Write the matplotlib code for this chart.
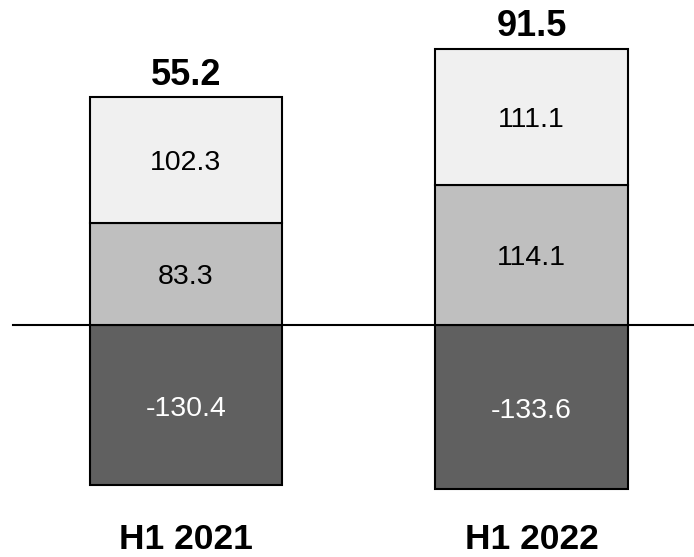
import matplotlib
matplotlib.use("Agg")
import matplotlib.pyplot as plt
import numpy as np

plt.rcParams['font.family'] = ['Liberation Sans', 'DejaVu Sans']

periods = ["H1 2021", "H1 2022"]
costs = [-130.4, -133.6]
segment_mid = [83.3, 114.1]
segment_top = [102.3, 111.1]
totals = [55.2, 91.5]

col_neg = "#606060"
col_mid = "#bfbfbf"
col_top = "#f0f0f0"

fig = plt.figure(figsize=(6.94, 5.57), dpi=100)
ax = fig.add_axes([0, 0, 1, 1])

x = np.arange(len(periods))
width = 0.556
edge = dict(edgecolor="black", linewidth=1.5)

ax.axhline(0, xmin=13 / 694, xmax=1, color="black", linewidth=1.5, zorder=1)

ax.bar(x, costs, width, color=col_neg, zorder=2, **edge)
ax.bar(x, segment_mid, width, color=col_mid, zorder=2, **edge)
ax.bar(x, segment_top, width, bottom=segment_mid, color=col_top, zorder=2, **edge)

seg_font = 20.5
for i in range(len(periods)):
    ax.annotate(f"{costs[i]:.1f}", (x[i], costs[i] / 2), xytext=(0, -3),
                textcoords="offset points", ha="center", va="center",
                fontsize=seg_font, color="white", zorder=3)
    ax.annotate(f"{segment_mid[i]:.1f}", (x[i], segment_mid[i] / 2),
                xytext=(0, -2), textcoords="offset points", ha="center",
                va="center", fontsize=seg_font, color="black", zorder=3)
    ax.annotate(f"{segment_top[i]:.1f}", (x[i], segment_mid[i] + segment_top[i] / 2),
                xytext=(0, -2), textcoords="offset points", ha="center",
                va="center", fontsize=seg_font, color="black", zorder=3)
    ax.annotate(f"{totals[i]:.1f}", (x[i], segment_mid[i] + segment_top[i]),
                xytext=(0, 9), textcoords="offset points", ha="center",
                va="baseline", fontsize=26, fontweight="bold", color="black")
    ax.text(x[i], 0.014, periods[i], transform=ax.get_xaxis_transform(),
            ha="center", va="baseline", fontsize=25.5, fontweight="bold",
            color="black")

px_per_unit = 345.5
ax.set_xlim(-186 / px_per_unit, (694 - 186) / px_per_unit)
scale = 1.227
ax.set_ylim(-(557 - 325) / scale, 325 / scale)
ax.axis("off")

fig.savefig("out.png", dpi=100)
